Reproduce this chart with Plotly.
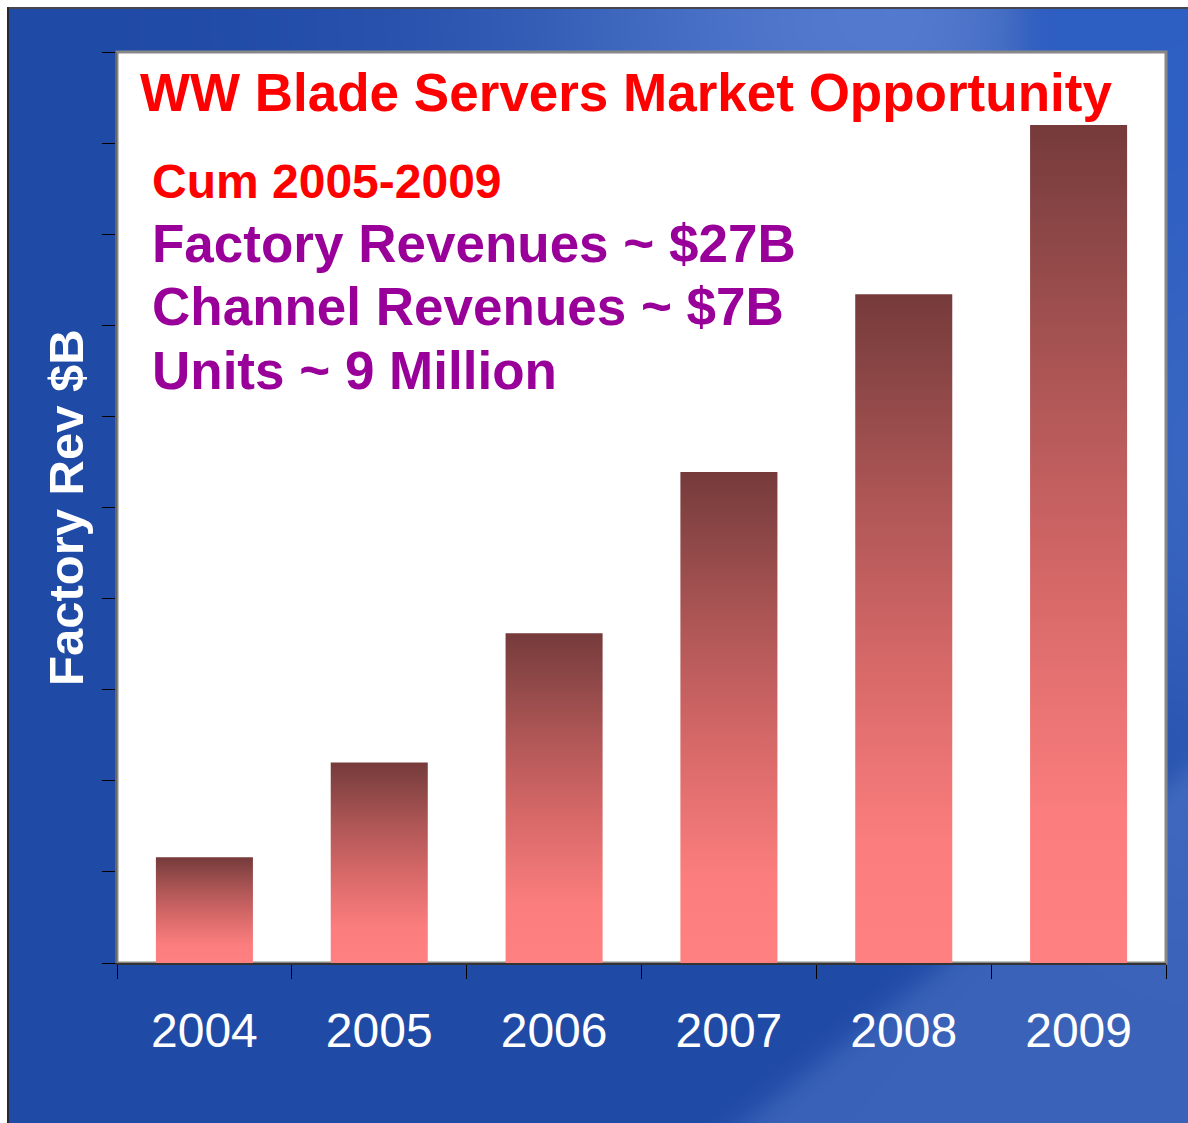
import base64, struct, zlib
import numpy as np
import plotly.graph_objects as go

# ---------------- data ----------------
years = ["2004", "2005", "2006", "2007", "2008", "2009"]
factory_rev = [1.16, 2.20, 3.62, 5.39, 7.34, 9.20]   # $B
y_ticks = list(range(0, 11))

title_text = "WW Blade Servers Market Opportunity"
sub_red = "Cum 2005-2009"
sub_lines = ["Factory Revenues ~ $27B", "Channel Revenues ~ $7B", "Units ~ 9 Million"]
y_title = "Factory Rev $B"

W, H = 1188, 1123
ML, MR, MT, MB = 117, 22, 52, 160
BAR_W = 0.555

# ---------------- background image (blue gradient) ----------------
def make_bg():
    yy, xx = np.mgrid[0:H, 0:W].astype(float)
    base = np.array([31, 74, 166], float)
    img = np.zeros((H, W, 3)) + base
    sx = np.where(xx < 880, 270.0, 150.0)
    blob = np.exp(-0.5 * ((xx - 890) / sx) ** 2 - 0.5 * ((yy - 10) / 230) ** 2)
    cut = 1 / (1 + np.exp((xx - 1025) / 10))
    img += (blob * cut)[..., None] * np.array([52, 48, 40])
    tr = (1 - cut) * np.exp(-0.5 * ((yy - 0) / 350) ** 2)
    img += tr[..., None] * np.array([14, 20, 28])
    xb = 742 + (1123 - yy) * (205 / 163)
    L = 1 / (1 + np.exp(-(xx - xb) / 12))
    img += (L * (1 - tr))[..., None] * np.array([27, 24, 18])
    b2 = np.exp(-0.5 * ((xx - 1200) / 120) ** 2 - 0.5 * ((yy - 520) / 200) ** 2)
    img += b2[..., None] * np.array([20, 20, 16])
    img = np.clip(img, 0, 255).astype(np.uint8)
    img[:7, :, :] = 255
    img[:, :7, :] = 255
    img[7:9, 7:, :] = np.array([70, 70, 80])
    img[7:, 7:9, :] = np.array([40, 40, 50])
    return img

def png_uri(img):
    h, w, _ = img.shape
    raw = b"".join(b"\x00" + img[r].tobytes() for r in range(h))
    def chunk(t, d):
        c = struct.pack(">I", len(d)) + t + d
        return c + struct.pack(">I", zlib.crc32(t + d) & 0xFFFFFFFF)
    png = b"\x89PNG\r\n\x1a\n" + chunk(b"IHDR", struct.pack(">IIBBBBB", w, h, 8, 2, 0, 0, 0)) \
        + chunk(b"IDAT", zlib.compress(raw, 9)) + chunk(b"IEND", b"")
    return "data:image/png;base64," + base64.b64encode(png).decode()

fig = go.Figure()

grad = [[0, "#FF8080"], [0.18, "#FB7D7D"], [0.45, "#D66868"],
        [0.7, "#AD5555"], [0.9, "#874444"], [1, "#763A3A"]]

for i, (yr, v) in enumerate(zip(years, factory_rev)):
    x0, x1 = i - BAR_W / 2, i + BAR_W / 2
    fig.add_trace(go.Scatter(
        x=[x0, x0, x1, x1, x0], y=[0, v, v, 0, 0],
        mode="lines", fill="toself", line=dict(width=0, color="rgba(0,0,0,0)"),
        fillgradient=dict(type="vertical", colorscale=grad),
        name=yr, showlegend=False, hoverinfo="skip"))

PW, PH = W - ML - MR, H - MT - MB

fig.update_layout(
    width=W, height=H,
    margin=dict(l=ML, r=MR, t=MT, b=MB, pad=0),
    paper_bgcolor="white", plot_bgcolor="white",
    showlegend=False,
    images=[dict(source=png_uri(make_bg()), xref="paper", yref="paper",
                 x=-ML / PW, y=1 + MT / PH,
                 sizex=W / PW, sizey=H / PH,
                 xanchor="left", yanchor="top", sizing="stretch", layer="below")],
    shapes=[dict(type="rect", xref="paper", yref="paper", x0=0, x1=1, y0=0, y1=1,
                 fillcolor="white", line=dict(color="#888888", width=3), layer="below")],
)

fig.update_xaxes(
    range=[-0.5, len(years) - 0.5], tickmode="array",
    tickvals=list(range(len(years))), ticktext=years,
    ticks="", showgrid=False, zeroline=False,
    showline=True, linecolor="#333333", linewidth=2,
    tickfont=dict(family="Liberation Sans, Arial", size=48, color="white"),
    ticklabelstandoff=24,
    minor=dict(tickmode="array", tickvals=[i - 0.5 for i in range(len(years) + 1)],
               ticks="outside", ticklen=14, tickwidth=1, tickcolor="black", showgrid=False),
)
fig.update_yaxes(
    range=[0, 10], tickmode="array", tickvals=y_ticks,
    ticks="outside", ticklen=13, tickwidth=1, tickcolor="black",
    showticklabels=False, showgrid=False, zeroline=False,
    showline=True, linecolor="#666666", linewidth=2,
)

def px(x):  # screen x -> paper
    return (x - ML) / PW
def py(y):  # screen y -> paper
    return 1 - (y - MT) / PH

ann = []
ann.append(dict(text=title_text, x=px(138), y=py(93), xref="paper", yref="paper",
                xanchor="left", yanchor="middle", showarrow=False,
                font=dict(family="Liberation Sans, Arial", size=53, color="#FF0000", weight="bold")))
ann.append(dict(text=sub_red, x=px(150), y=py(181), xref="paper", yref="paper",
                xanchor="left", yanchor="middle", showarrow=False,
                font=dict(family="Liberation Sans, Arial", size=48, color="#FF0000", weight="bold")))
for k, t in enumerate(sub_lines):
    ann.append(dict(text=t, x=px(150), y=py(243 + 63.5 * k), xref="paper", yref="paper",
                    xanchor="left", yanchor="middle", showarrow=False,
                    font=dict(family="Liberation Sans, Arial", size=53, color="#990099", weight="bold")))
ann.append(dict(text=y_title, x=px(66), y=py(508), xref="paper", yref="paper",
                xanchor="center", yanchor="middle", textangle=-90, showarrow=False,
                font=dict(family="Liberation Sans, Arial", size=49, color="white", weight="bold")))
fig.update_layout(annotations=ann)

fig.write_html("out.html", config={"displayModeBar": False},
               post_script="document.body.style.margin='0';document.body.style.overflow='hidden';")
